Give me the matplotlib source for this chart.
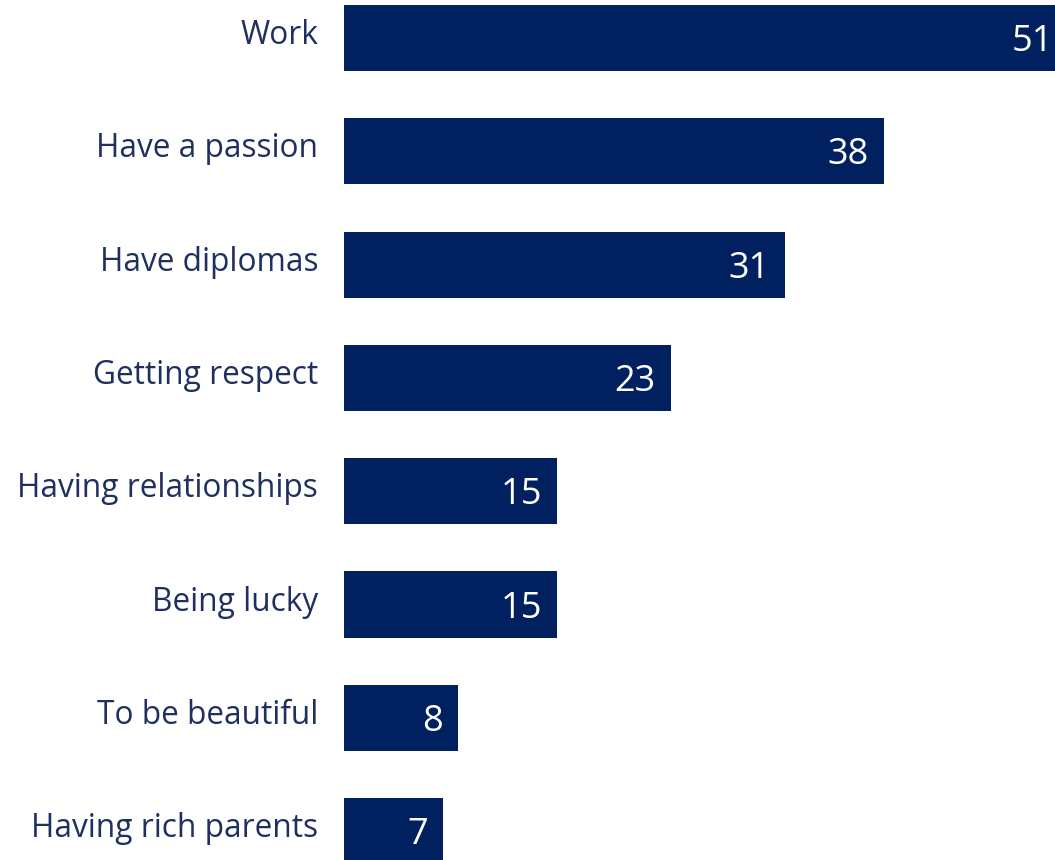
import matplotlib.pyplot as plt
from matplotlib.transforms import blended_transform_factory

categories = ['Work', 'Have a passion', 'Have diplomas', 'Getting respect',
              'Having relationships', 'Being lucky', 'To be beautiful',
              'Having rich parents']
values = [51, 38, 31, 23, 15, 15, 8, 7]

bar_color = '#002060'
text_color = '#1F2F5F'

plt.rcParams['font.family'] = ['Open Sans', 'DejaVu Sans']

fig = plt.figure(figsize=(10.55, 8.6), dpi=100)
ax = fig.add_axes([344 / 1055, 0, 711 / 1055, 1])

pos = list(range(len(categories)))
ax.barh(pos, values, height=0.583, color=bar_color)

ax.set_xlim(0, 50.03)
ax.set_ylim(7.255, -0.335)
ax.axis('off')

# category names to the left of the bars
trans = blended_transform_factory(ax.transAxes, ax.transData)
for i, name in enumerate(categories):
    ax.text(-26 / 711, i - 0.02, name, transform=trans, ha='right', va='center',
            fontsize=22.8, color=text_color, clip_on=False)

# values inside the bar ends
for i, v in enumerate(values):
    ax.annotate(str(v), xy=(v, i), xytext=(-11, -3), textcoords='offset points',
                ha='right', va='center', fontsize=26, color='white',
                annotation_clip=False)

fig.savefig('out.png', dpi=100)
